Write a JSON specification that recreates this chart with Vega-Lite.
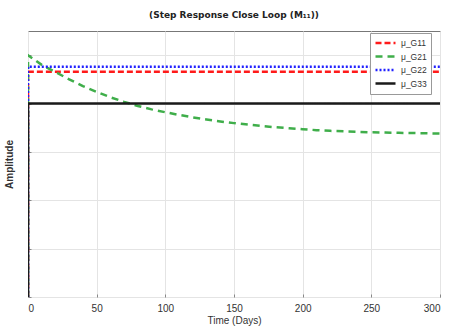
{
  "$schema": "https://vega.github.io/schema/vega-lite/v6.json",
  "autosize": {"type": "none"},
  "padding": {"left": 28, "top": 31, "right": 11, "bottom": 32},
  "width": 412,
  "height": 266,
  "background": "white",
  "title": {
    "text": "(Step Response Close Loop (M₁₁))",
    "font": "DejaVu Sans",
    "fontSize": 9,
    "fontWeight": "bold",
    "color": "#222",
    "offset": 11
  },
  "config": {
    "view": {"stroke": "#777", "strokeWidth": 1},
    "font": "Liberation Sans"
  },
  "data": {
    "values": [
      {"series": "μ_G11", "t": 0, "y": 0, "ord": 0},
      {"series": "μ_G11", "t": 0, "y": 0.931, "ord": 1},
      {"series": "μ_G11", "t": 300, "y": 0.931, "ord": 2},
      {"series": "μ_G21", "t": 0, "y": 0, "ord": 0},
      {"series": "μ_G21", "t": 0, "y": 1.0, "ord": 1},
      {"series": "μ_G21", "t": 10, "y": 0.96, "ord": 2},
      {"series": "μ_G21", "t": 20, "y": 0.93, "ord": 3},
      {"series": "μ_G21", "t": 30, "y": 0.9, "ord": 4},
      {"series": "μ_G21", "t": 40, "y": 0.872, "ord": 5},
      {"series": "μ_G21", "t": 50, "y": 0.848, "ord": 6},
      {"series": "μ_G21", "t": 60, "y": 0.826, "ord": 7},
      {"series": "μ_G21", "t": 70, "y": 0.807, "ord": 8},
      {"series": "μ_G21", "t": 80, "y": 0.79, "ord": 9},
      {"series": "μ_G21", "t": 90, "y": 0.776, "ord": 10},
      {"series": "μ_G21", "t": 100, "y": 0.764, "ord": 11},
      {"series": "μ_G21", "t": 110, "y": 0.753, "ord": 12},
      {"series": "μ_G21", "t": 120, "y": 0.743, "ord": 13},
      {"series": "μ_G21", "t": 130, "y": 0.734, "ord": 14},
      {"series": "μ_G21", "t": 140, "y": 0.726, "ord": 15},
      {"series": "μ_G21", "t": 150, "y": 0.719, "ord": 16},
      {"series": "μ_G21", "t": 160, "y": 0.713, "ord": 17},
      {"series": "μ_G21", "t": 170, "y": 0.707, "ord": 18},
      {"series": "μ_G21", "t": 180, "y": 0.702, "ord": 19},
      {"series": "μ_G21", "t": 190, "y": 0.698, "ord": 20},
      {"series": "μ_G21", "t": 200, "y": 0.694, "ord": 21},
      {"series": "μ_G21", "t": 210, "y": 0.69, "ord": 22},
      {"series": "μ_G21", "t": 220, "y": 0.687, "ord": 23},
      {"series": "μ_G21", "t": 230, "y": 0.685, "ord": 24},
      {"series": "μ_G21", "t": 240, "y": 0.683, "ord": 25},
      {"series": "μ_G21", "t": 250, "y": 0.681, "ord": 26},
      {"series": "μ_G21", "t": 260, "y": 0.68, "ord": 27},
      {"series": "μ_G21", "t": 270, "y": 0.679, "ord": 28},
      {"series": "μ_G21", "t": 280, "y": 0.678, "ord": 29},
      {"series": "μ_G21", "t": 290, "y": 0.677, "ord": 30},
      {"series": "μ_G21", "t": 300, "y": 0.676, "ord": 31},
      {"series": "μ_G22", "t": 0, "y": 0, "ord": 0},
      {"series": "μ_G22", "t": 0, "y": 0.952, "ord": 1},
      {"series": "μ_G22", "t": 300, "y": 0.952, "ord": 2},
      {"series": "μ_G33", "t": 0, "y": 0, "ord": 0},
      {"series": "μ_G33", "t": 0, "y": 0.8, "ord": 1},
      {"series": "μ_G33", "t": 300, "y": 0.8, "ord": 2}
    ]
  },
  "mark": {"type": "line", "strokeWidth": 2.5, "clip": true},
  "encoding": {
    "x": {
      "field": "t",
      "type": "quantitative",
      "scale": {"domain": [0, 300], "nice": false},
      "axis": {
        "title": "Time (Days)",
        "titleFontSize": 10,
        "titleFontWeight": "normal",
        "titleColor": "#333",
        "titlePadding": 2,
        "values": [0, 50, 100, 150, 200, 250, 300],
        "labelFontSize": 10,
        "labelColor": "#333",
        "labelPadding": 9,
        "domain": false,
        "tickSize": -3,
        "tickColor": "#888",
        "gridColor": "#e4e4e4",
        "gridWidth": 1
      }
    },
    "y": {
      "field": "y",
      "type": "quantitative",
      "scale": {"domain": [0, 1.1], "nice": false},
      "axis": {
        "title": "Amplitude",
        "titleFontSize": 10,
        "titleFontWeight": "bold",
        "titleColor": "#333",
        "titlePadding": 13,
        "values": [0, 0.2, 0.4, 0.6, 0.8, 1.0],
        "labels": false,
        "domain": false,
        "tickSize": -3,
        "tickColor": "#888",
        "gridColor": "#e4e4e4",
        "gridWidth": 1
      }
    },
    "order": {"field": "ord", "type": "quantitative"},
    "color": {
      "field": "series",
      "type": "nominal",
      "scale": {
        "domain": ["μ_G11", "μ_G21", "μ_G22", "μ_G33"],
        "range": ["#ff1a1a", "#3fae4a", "#1f1fff", "#1a1a1a"]
      },
      "legend": {
        "title": null,
        "orient": "none",
        "legendX": 342,
        "legendY": 2,
        "symbolType": "stroke",
        "symbolSize": 400,
        "symbolStrokeWidth": 2.5,
        "clipHeight": 12,
        "labelFontSize": 8.5,
        "labelColor": "#333",
        "labelOffset": 4,
        "rowPadding": 1.5,
        "padding": 4,
        "fillColor": "white",
        "strokeColor": "#999"
      }
    },
    "strokeDash": {
      "field": "series",
      "type": "nominal",
      "scale": {
        "domain": ["μ_G11", "μ_G21", "μ_G22", "μ_G33"],
        "range": [[6, 3], [7, 5], [2, 2], [1, 0]]
      },
      "legend": {
        "title": null,
        "orient": "none",
        "legendX": 342,
        "legendY": 2
      }
    }
  }
}
